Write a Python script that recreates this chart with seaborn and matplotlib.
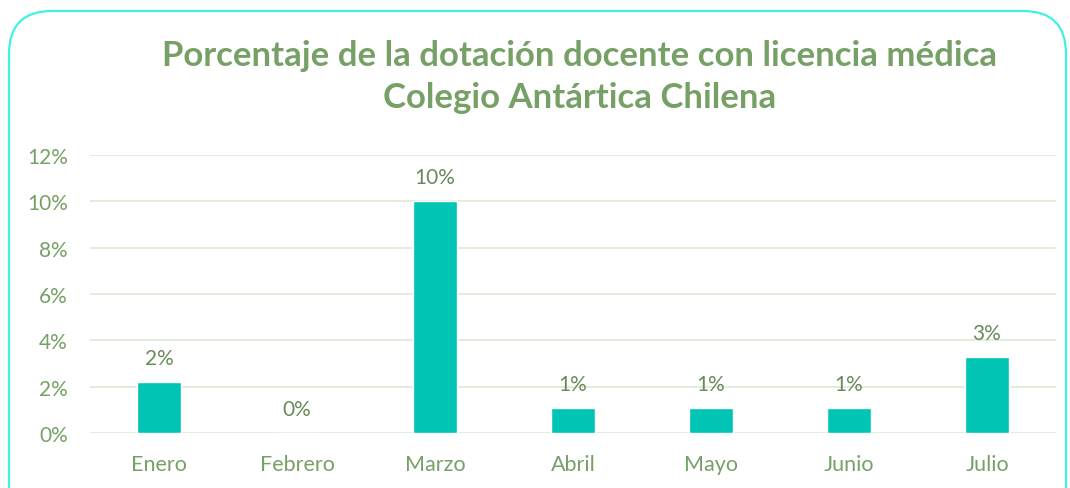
import seaborn as sns
import pandas as pd
from matplotlib import pyplot as plt
from matplotlib.patches import FancyBboxPatch
from matplotlib.ticker import PercentFormatter

months = ['Enero', 'Febrero', 'Marzo', 'Abril', 'Mayo', 'Junio', 'Julio']
percent = [2.2, 0.0, 10.0, 1.1, 1.1, 1.1, 3.3]

TITLE = 'Porcentaje de la dotación docente con licencia médica\nColegio Antártica Chilena'
GREEN = '#76A066'
LABEL = '#6A8A5C'
BAR = '#00C4B4'

sns.set_style('white')
plt.rcParams['font.family'] = ['Lato', 'DejaVu Sans']

df = pd.DataFrame({'mes': months, 'pct': percent})

fig = plt.figure(figsize=(10.7, 4.89), dpi=100)
ax = fig.add_axes([90 / 1070, 1 - 434 / 489, 966 / 1070, 278 / 489])

sns.barplot(data=df, x='mes', y='pct', color=BAR, width=0.32,
            saturation=1, ax=ax, zorder=3)

ax.set_ylim(0, 12)
ax.set_yticks(range(0, 13, 2))
ax.yaxis.set_major_formatter(PercentFormatter(decimals=0))
ax.grid(axis='y', color='#E2EADA', linewidth=1.3, zorder=0)
ax.set_xlim(-0.5, 6.5)
for s in ax.spines.values():
    s.set_visible(False)
ax.set_xlabel('')
ax.set_ylabel('')
ax.tick_params(axis='both', length=0, colors=GREEN)
ax.tick_params(axis='x', pad=15, labelsize=15.5)
ax.tick_params(axis='y', pad=16, labelsize=15)

for i, v in enumerate(percent):
    ax.annotate(f'{v:.0f}%', (i, v), xytext=(0, 10), textcoords='offset points',
                ha='center', va='bottom', fontsize=15, color=LABEL)

fig.text(580 / 1070, 1 - 77 / 489, TITLE, ha='center', va='center',
         fontsize=25, fontweight='bold', color=GREEN, linespacing=1.38)

frame = FancyBboxPatch((9 / 1070, -0.2), 1057 / 1070, 1.2 - 12 / 489,
                       boxstyle='round,pad=0,rounding_size=0.04',
                       transform=fig.transFigure, fill=False,
                       edgecolor='#3FF2E2', linewidth=1.6,
                       mutation_aspect=1070 / 489)
fig.patches.append(frame)

fig.savefig('out.png', dpi=100)
